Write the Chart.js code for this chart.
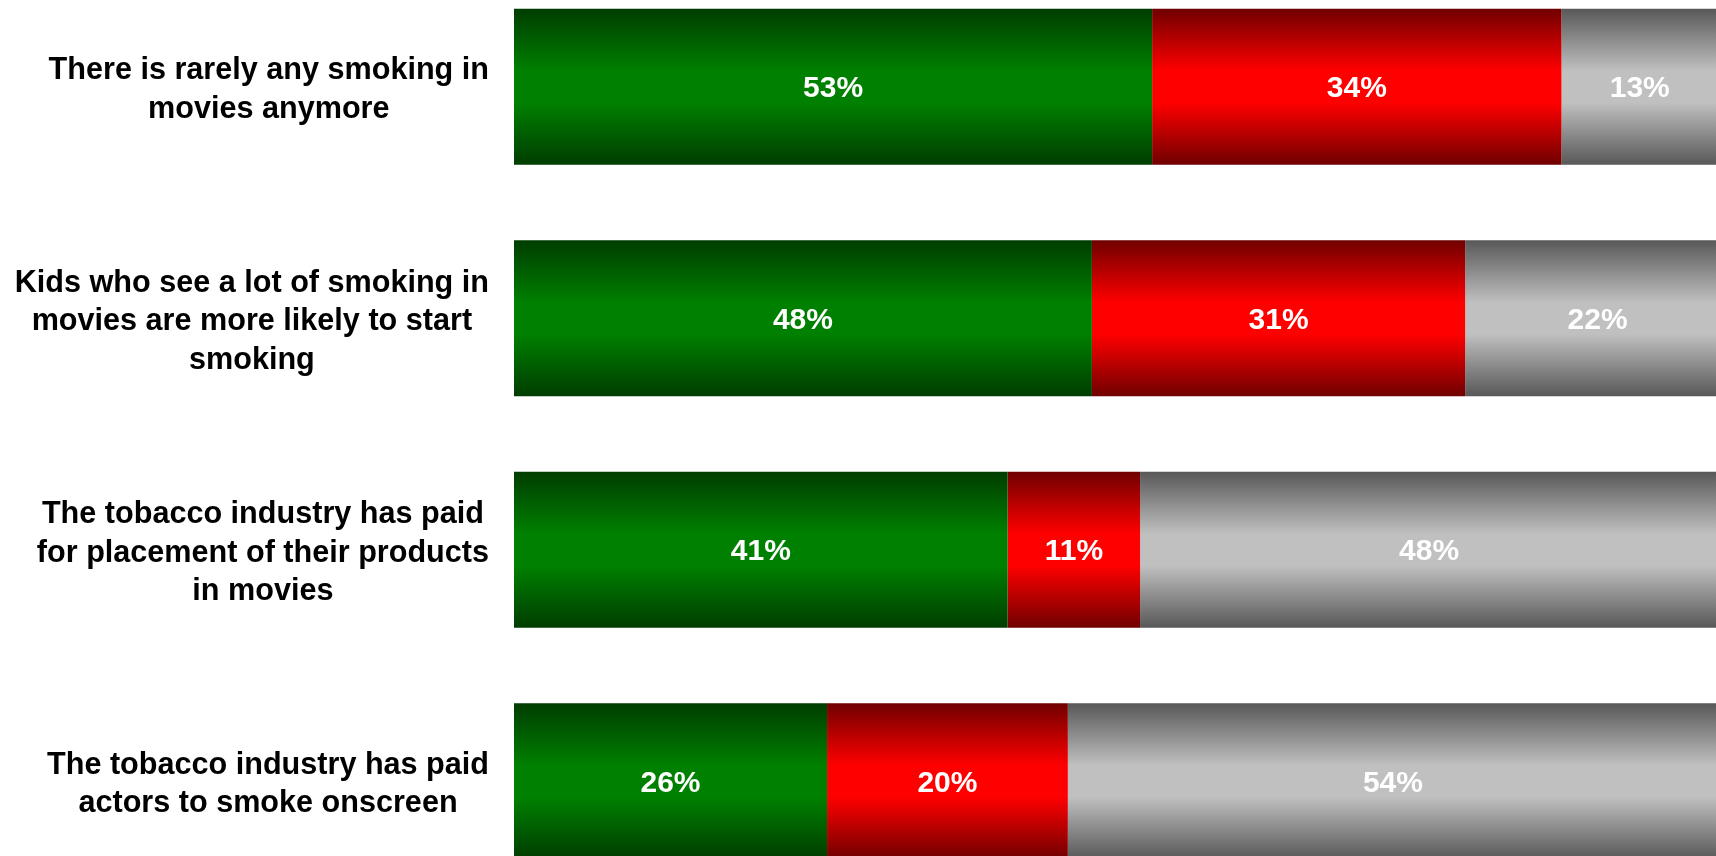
<!DOCTYPE html>
<html>
<head>
<meta charset="utf-8">
<title>Smoking in movies – agreement</title>
<script src="https://cdn.jsdelivr.net/npm/chart.js@4/dist/chart.umd.min.js"></script>
<style>
  html, body { margin: 0; padding: 0; background: #ffffff; overflow: hidden; }
  body { width: 1716px; height: 856px; position: relative; }
  #wrap { position: absolute; left: 0; top: -29px; width: 1718px; height: 926px; }
</style>
</head>
<body>
<div id="wrap"><canvas id="chart" width="1718" height="926"></canvas></div>
<script>
// Statements (one line per array entry)
const statements = [
  ["There is rarely any smoking in", "movies anymore"],
  ["Kids who see a lot of smoking in", "movies are more likely to start", "smoking"],
  ["The tobacco industry has paid", "for placement of their products", "in movies"],
  ["The tobacco industry has paid", "actors to smoke onscreen"]
];

// Response shares, percent
const seriesNames = ["Agree", "Disagree", "Not sure"];
const agreeValues    = [53, 48, 41, 26];
const disagreeValues = [34, 31, 11, 20];
const notSureValues  = [13, 22, 48, 54];

// Gradient colours per series: [edge, centre]
const shades = [
  ["#003d00", "#008000"],
  ["#700000", "#ff0000"],
  ["#585858", "#c0c0c0"]
];

const BAR_PCT = 0.674;
const LABEL_FONT = "bold 30.6px 'Liberation Sans', Arial, sans-serif";
const VALUE_FONT = "bold 30px 'Liberation Sans', Arial, sans-serif";

function bandGradient(ctx, top, bottom, pair) {
  const g = ctx.createLinearGradient(0, top, 0, bottom);
  g.addColorStop(0, pair[0]);
  g.addColorStop(0.4, pair[1]);
  g.addColorStop(0.6, pair[1]);
  g.addColorStop(1, pair[0]);
  return g;
}

function barFill(seriesIndex) {
  return function (context) {
    const chart = context.chart;
    const yScale = chart.scales.y;
    if (!yScale || !chart.chartArea) return shades[seriesIndex][1];
    const centre = yScale.getPixelForValue(context.dataIndex);
    const band = yScale.height / statements.length;
    const half = band * BAR_PCT / 2;
    return bandGradient(chart.ctx, centre - half, centre + half, shades[seriesIndex]);
  };
}

// Statement text: each block centred on its own widest line, right edge aligned
const statementLabels = {
  id: 'statementLabels',
  afterDraw(chart) {
    const ctx = chart.ctx;
    const yScale = chart.scales.y;
    const rightEdge = chart.chartArea.left - 25;
    const lineHeight = 38.5;
    ctx.save();
    ctx.font = LABEL_FONT;
    ctx.fillStyle = "#000000";
    ctx.textAlign = "center";
    ctx.textBaseline = "middle";
    statements.forEach((lines, i) => {
      const widest = Math.max(...lines.map(l => ctx.measureText(l).width));
      const cx = rightEdge - widest / 2;
      const cy = yScale.getPixelForTick(i) + 3.5;
      const top = cy - (lines.length - 1) * lineHeight / 2;
      lines.forEach((l, k) => ctx.fillText(l, cx, top + k * lineHeight));
    });
    ctx.restore();
  }
};

// Percent labels inside each segment
const valueLabels = {
  id: 'valueLabels',
  afterDatasetsDraw(chart) {
    const ctx = chart.ctx;
    ctx.save();
    ctx.font = VALUE_FONT;
    ctx.fillStyle = "#ffffff";
    ctx.textAlign = "center";
    ctx.textBaseline = "middle";
    chart.data.datasets.forEach((ds, di) => {
      const meta = chart.getDatasetMeta(di);
      meta.data.forEach((el, i) => {
        const x = (el.x + el.base) / 2;
        ctx.fillText(ds.data[i] + "%", x, el.y + 2);
      });
    });
    ctx.restore();
  }
};

const seriesData = [agreeValues, disagreeValues, notSureValues];

new Chart(document.getElementById('chart'), {
  type: 'bar',
  data: {
    labels: statements,
    datasets: seriesData.map((vals, s) => ({
      label: seriesNames[s],
      data: vals,
      backgroundColor: barFill(s),
      borderWidth: 0,
      barPercentage: BAR_PCT,
      categoryPercentage: 1
    }))
  },
  options: {
    indexAxis: 'y',
    responsive: false,
    animation: false,
    events: [],
    layout: { padding: 0 },
    plugins: {
      legend: { display: false },
      tooltip: { enabled: false }
    },
    scales: {
      x: {
        stacked: true,
        min: 0,
        max: 100,
        display: false
      },
      y: {
        stacked: true,
        offset: true,
        grid: { display: false, drawTicks: false },
        border: { display: false },
        ticks: { display: false },
        afterFit(scale) { scale.width = 514; }
      }
    }
  },
  plugins: [valueLabels, statementLabels]
});
</script>
</body>
</html>
